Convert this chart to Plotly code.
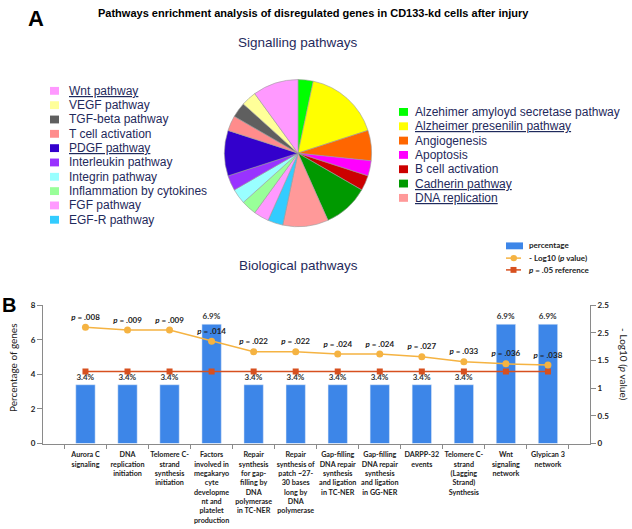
import plotly.graph_objects as go

# ---------------- data ----------------
pie_labels = ["Alzehimer amyloyd secretase pathway", "Alzheimer presenilin pathway", "Angiogenesis",
              "Apoptosis", "B cell activation", "Cadherin pathway", "DNA replication", "EGF-R pathway",
              "FGF pathway", "Inflammation by cytokines", "Integrin pathway", "Interleukin pathway",
              "PDGF pathway", "T cell activation", "TGF-beta pathway", "VEGF pathway", "Wnt pathway"]
gene_counts = [1, 5, 2, 1, 1, 3, 3, 1, 1, 1, 1, 1, 3, 1, 1, 1, 3]
pie_colors = ["#00FF00", "#FFFF00", "#FF6600", "#FF00FF", "#CC0000", "#009900", "#FF9999", "#33CCFF",
              "#FF99FF", "#99FF99", "#99FFFF", "#9933FF", "#3300CC", "#FF8C8C", "#5F5F5F", "#FFFF99",
              "#FF99FF"]
underlined = ["Alzheimer presenilin pathway", "Cadherin pathway", "DNA replication", "PDGF pathway", "Wnt pathway"]
left_legend = ["Wnt pathway", "VEGF pathway", "TGF-beta pathway", "T cell activation", "PDGF pathway",
               "Interleukin pathway", "Integrin pathway", "Inflammation by cytokines", "FGF pathway",
               "EGF-R pathway"]
right_legend = ["Alzehimer amyloyd secretase pathway", "Alzheimer presenilin pathway", "Angiogenesis",
                "Apoptosis", "B cell activation", "Cadherin pathway", "DNA replication"]

bio_labels = ["Aurora C<br>signaling", "DNA<br>replication<br>initiation",
              "Telomere C-<br>strand<br>synthesis<br>initiation",
              "Factors<br>involved in<br>megakaryo<br>cyte<br>developme<br>nt and<br>platelet<br>production",
              "Repair<br>synthesis<br>for gap-<br>filling by<br>DNA<br>polymerase<br>in TC-NER",
              "Repair<br>synthesis of<br>patch ~27-<br>30 bases<br>long by<br>DNA<br>polymerase",
              "Gap-filling<br>DNA repair<br>synthesis<br>and ligation<br>in TC-NER",
              "Gap-filling<br>DNA repair<br>synthesis<br>and ligation<br>in GG-NER",
              "DARPP-32<br>events",
              "Telomere C-<br>strand<br>(Lagging<br>Strand)<br>Synthesis",
              "Wnt<br>signaling<br>network", "Glypican 3<br>network"]
pct_genes = [3.4, 3.4, 3.4, 6.9, 3.4, 3.4, 3.4, 3.4, 3.4, 3.4, 6.9, 6.9]
pct_text = ["3.4%", "3.4%", "3.4%", "6.9%", "3.4%", "3.4%", "3.4%", "3.4%", "3.4%", "3.4%", "6.9%", "6.9%"]
p_values = [".008", ".009", ".009", ".014", ".022", ".022", ".024", ".024", ".027", ".033", ".036", ".038"]
neg_log10_p = [2.10, 2.05, 2.05, 1.85, 1.66, 1.66, 1.62, 1.62, 1.57, 1.48, 1.44, 1.42]
ref_values = [1.30, 1.30, 1.30, 1.30, 1.30, 1.30, 1.30, 1.30, 1.30, 1.30, 1.30, 1.30]
y2_tickvals = [0, 0.5, 1, 1.5, 2, 2.5]
y2_ticktext = ["0", "0.5", "1", "1.5", "2.5", "2.5"]

# ---------------- helpers ----------------
W, H = 632, 529
def px(x): return x / W
def py(y): return 1 - y / H

NAVY = "#1f2a5c"
ARIAL = "Liberation Sans, Arial, sans-serif"
CAL = "Lato, Open Sans, sans-serif"
BLUE = "#3D86E8"
ORANGE = "#F5B342"
RED = "#D7501F"
DARK = "#222222"

fig = go.Figure()

fig.add_trace(go.Pie(
    labels=pie_labels, values=gene_counts, sort=False, direction="clockwise", rotation=0,
    marker=dict(colors=pie_colors, line=dict(color="#9a9a9a", width=0.6)),
    textinfo="none", hoverinfo="label+value", showlegend=False,
    domain=dict(x=[px(223), px(373)], y=[py(226), py(76)])))

fig.add_trace(go.Bar(
    x=bio_labels, y=pct_genes, text=pct_text, textposition="outside",
    textfont=dict(family=CAL, size=8, color="#333333", weight="bold"),
    marker=dict(color=BLUE), width=0.46, cliponaxis=False, showlegend=False,
    xaxis="x", yaxis="y", name="percentage"))

fig.add_trace(go.Scatter(
    x=bio_labels, y=ref_values, mode="lines+markers", showlegend=False,
    line=dict(color=RED, width=1.5), marker=dict(symbol="square", size=6, color=RED),
    xaxis="x", yaxis="y2", name="p = .05 reference"))

fig.add_trace(go.Scatter(
    x=bio_labels, y=neg_log10_p, mode="lines+markers+text", showlegend=False,
    text=["<i>p</i> = " + p for p in p_values], textposition="top center",
    textfont=dict(family=CAL, size=8, color=DARK, weight="bold"),
    line=dict(color=ORANGE, width=1.5), marker=dict(size=7, color=ORANGE),
    cliponaxis=False, xaxis="x", yaxis="y2", name="- Log10 (p value)"))

annotations = []
shapes = []

def txt(x, y, s, size, color="black", family=ARIAL, bold=False, xanchor="center", angle=0):
    annotations.append(dict(x=px(x), y=py(y), xref="paper", yref="paper", text=s, showarrow=False,
                            xanchor=xanchor, yanchor="middle", textangle=angle,
                            font=dict(family=family, size=size, color=color,
                                      weight="bold" if bold else "normal")))

txt(36, 14, "A", 22, bold=True)
txt(313, 8, "Pathways enrichment analysis of disregulated genes in CD133-kd cells after injury", 11, bold=True)
txt(298, 38, "Signalling pathways", 13.5, color=NAVY)
txt(298, 266, "Biological pathways", 13.5, color=NAVY)
txt(9, 306, "B", 20, bold=True)

color_of = dict(zip(pie_labels, pie_colors))

def legend_block(names, x_marker, x_text, y0, step):
    for i, n in enumerate(names):
        y = y0 + i * step
        shapes.append(dict(type="rect", xref="paper", yref="paper",
                           x0=px(x_marker - 4.5), x1=px(x_marker + 4.5), y0=py(y + 4), y1=py(y - 4),
                           fillcolor=color_of[n], line=dict(width=0)))
        label = f"<u>{n}</u>" if n in underlined else n
        txt(x_text, y, label, 12, color=NAVY, xanchor="left")

legend_block(left_legend, 54.5, 67, 87.5, 14.6)
legend_block(right_legend, 403.5, 413, 109, 14.6)

# bar chart legend (manual)
shapes.append(dict(type="rect", xref="paper", yref="paper", x0=px(506), x1=px(523), y0=py(249), y1=py(242),
                   fillcolor=BLUE, line=dict(width=0)))
txt(527, 245, "percentage", 8, color=DARK, family=CAL, bold=True, xanchor="left")
shapes.append(dict(type="line", xref="paper", yref="paper", x0=px(506), x1=px(521), y0=py(258), y1=py(258),
                   line=dict(color=ORANGE, width=1.5)))
shapes.append(dict(type="circle", xref="paper", yref="paper", x0=px(510.5), x1=px(517), y0=py(261.3), y1=py(254.7),
                   fillcolor=ORANGE, line=dict(width=0)))
txt(527, 258, "- Log10 (<i>p</i> value)", 8, color=DARK, family=CAL, bold=True, xanchor="left")
shapes.append(dict(type="line", xref="paper", yref="paper", x0=px(506), x1=px(521), y0=py(270), y1=py(270),
                   line=dict(color=RED, width=1.5)))
shapes.append(dict(type="rect", xref="paper", yref="paper", x0=px(510.5), x1=px(516.5), y0=py(273), y1=py(267),
                   fillcolor=RED, line=dict(width=0)))
txt(527, 270, "<i>p</i> = .05 reference", 8, color=DARK, family=CAL, bold=True, xanchor="left")

# axis titles
txt(13, 370, "Percentage of genes", 10, color=DARK, family=CAL, angle=-90)
txt(624, 366, "- Log10 (<i>p</i> value)", 10, color=DARK, family=CAL, angle=90)

axis_common = dict(showgrid=False, zeroline=False, showline=True, linecolor="#8a8a8a", linewidth=1,
                   ticks="outside", tickcolor="#8a8a8a", ticklen=5,
                   tickfont=dict(family=CAL, size=8, color=DARK, weight="bold"))

fig.update_layout(
    width=W, height=H, autosize=False,
    margin=dict(l=0, r=0, t=0, b=0),
    paper_bgcolor="white", plot_bgcolor="white",
    showlegend=False,
    xaxis=dict(domain=[px(43), px(590)], range=[-1.01, 12.0], anchor="y", tickangle=0,
               tickson="boundaries", ticklabelstandoff=4,
               **{**axis_common, "ticklen": 4,
                  "tickfont": dict(family=CAL, size=7.2, color=DARK, weight="bold")}),
    yaxis=dict(domain=[py(447), py(306)], range=[0, 8], dtick=2, anchor="x", **axis_common),
    yaxis2=dict(overlaying="y", side="right", anchor="x", range=[0, 2.5],
                tickvals=y2_tickvals, ticktext=y2_ticktext, **axis_common),
    annotations=annotations, shapes=shapes,
)

fig.write_html("out.html", config={"displayModeBar": False},
               post_script="document.body.style.margin='0';")
